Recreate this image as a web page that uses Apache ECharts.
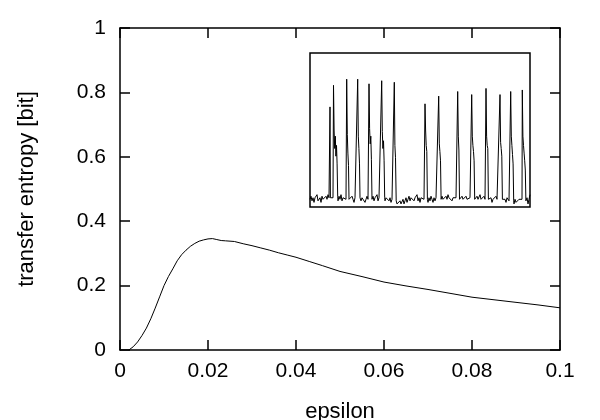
<!DOCTYPE html>
<html><head><meta charset="utf-8">
<script src="https://cdn.jsdelivr.net/npm/echarts@6/dist/echarts.min.js"></script>
<style>html,body{margin:0;padding:0;background:#fff}#c{width:600px;height:420px}</style>
</head><body><div id="c"></div>
<script>
// main curve
var epsilon = [0.002,0.003,0.004,0.005,0.006,0.007,0.008,0.009,0.010,0.011,0.012,0.013,0.014,0.015,0.016,0.017,0.018,0.019,0.020,0.021,0.022,0.023,0.024,0.026,0.028,0.030,0.032,0.034,0.036,0.038,0.040,0.043,0.046,0.050,0.055,0.060,0.065,0.070,0.075,0.080,0.085,0.090,0.095,0.100];
var transferEntropy = [0.0,0.010,0.025,0.045,0.068,0.097,0.130,0.165,0.200,0.228,0.252,0.277,0.296,0.310,0.322,0.331,0.338,0.342,0.345,0.346,0.343,0.340,0.339,0.337,0.330,0.324,0.317,0.310,0.302,0.295,0.288,0.275,0.262,0.244,0.228,0.211,0.199,0.188,0.176,0.164,0.156,0.148,0.140,0.131];
var xTicks = [0, 0.02, 0.04, 0.06, 0.08, 0.1];
var yTicks = [0, 0.2, 0.4, 0.6, 0.8, 1];
// inset time series [time, signal]
var insetSignal = [
[0,.05],[1,.07],[2,.04],[3,.06],[4,.03],[5,.06],[6,.05],[7,.08],[8,.04],[9,.05],[10,.06],[11,.03],[12,.07],[13,.05],[14,.06],[15,.04],[16,.07],[17,.05],[18,.08],[19,.06],
[19.7,.07],[20,.65],[20.4,.06],
[21,.05],[22,.07],[23,.06],
[23.5,.79],[24.1,.50],[24.7,.38],[25.3,.46],[25.9,.33],[26.5,.40],[27.1,.28],[27.7,.07],
[28,.04],[29,.07],[30,.05],[31,.08],[32,.04],[33,.06],[34,.05],[35,.07],[36,.05],
[36.7,.83],[37.3,.47],[37.9,.35],[38.5,.27],[39,.05],
[40,.06],[41,.04],[42,.07],[43,.05],[44,.03],[45,.06],[46,.05],[47,.07],
[47.7,.83],[48.3,.46],[48.9,.38],[49.5,.28],[50,.06],
[51,.04],[52,.06],[53,.05],[54,.07],[55,.03],[56,.05],[57,.07],[58,.05],
[59,.80],[59.6,.51],[60.2,.41],[60.8,.46],[61.4,.31],[62,.05],
[63,.07],[64,.04],[65,.06],[66,.05],[67,.08],[68,.04],[69,.06],[70,.05],[71,.07],
[71.7,.82],[72.3,.49],[72.9,.38],[73.5,.43],[74.1,.30],[74.7,.06],
[75,.04],[76,.06],[77,.05],[78,.07],[79,.04],[80,.06],[81,.03],[82,.05],[83,.06],[84,.05],
[84.3,.81],[84.9,.40],[85.5,.32],[86.2,.04],
[87,.02],[88,.03],[89,.01],[90,.04],[91,.02],[92,.03],[93,.05],[94,.02],[95,.04],[96,.06],[97,.03],[98,.05],[99,.07],[100,.04],[101,.06],[102,.05],[103,.07],[104,.04],[105,.06],[106,.05],[107,.08],[108,.04],[109,.06],[110,.03],[111,.06],[112,.05],[113,.07],[114,.05],
[115,.67],[115.6,.50],[116.2,.40],[116.8,.36],[117.4,.05],
[118,.03],[119,.06],[120,.04],[121,.07],[122,.05],[123,.03],[124,.06],[125,.04],[126,.06],[127,.05],[128,.06],
[128.7,.72],[129.3,.41],[129.9,.36],[130.5,.30],[131.1,.05],
[132,.07],[133,.05],[134,.06],[135,.04],[136,.07],[137,.05],[138,.08],[139,.06],[140,.05],[141,.07],[142,.04],[143,.06],[144,.05],[145,.07],[146,.06],[147,.07],
[147.7,.75],[148.3,.46],[148.9,.37],[149.5,.05],
[150,.06],[151,.04],[152,.07],[153,.05],[154,.06],[155,.04],[156,.07],[157,.05],[158,.06],[159,.04],[160,.06],[161,.05],
[161.7,.73],[162.3,.46],[162.9,.40],[163.5,.36],[164.1,.30],[164.7,.05],
[165,.06],[166,.04],[167,.07],[168,.05],[169,.06],[170,.08],[171,.05],[172,.06],[173,.04],[174,.07],[175,.05],
[176,.77],[176.6,.46],[177.2,.40],[177.8,.38],[178.4,.05],
[179,.06],[180,.04],[181,.06],[182,.03],[183,.05],[184,.06],[185,.04],[186,.07],[187,.05],[188,.06],[189,.05],
[190,.73],[190.6,.42],[191.2,.38],[191.8,.33],[192.4,.05],
[193,.06],[194,.04],[195,.05],[196,.03],[197,.06],[198,.05],[199,.04],[200,.05],
[200.7,.75],[201.3,.46],[201.9,.40],[202.5,.34],[203.1,.28],[203.7,.04],
[204,.02],[205,.05],[206,.03],[207,.04],[208,.02],[209,.05],[210,.04],[211,.06],[212,.05],
[212.3,.76],[212.9,.46],[213.5,.40],[214.1,.35],[214.7,.30],[215.3,.24],[215.9,.04],
[216,.03],[217,.06],[218,.02],[219,.05],[220,.08]
];

var FONT = 'Liberation Sans, Arial, Helvetica, sans-serif';
var chart = echarts.init(document.getElementById('c'), null, {renderer: 'canvas'});
var axisLineStyle = {color: '#000', width: 1.5};
chart.setOption({
  animation: false,
  backgroundColor: '#fff',
  grid: [
    {left: 120, right: 40, top: 28, bottom: 70, show: false, containLabel: false, outerBoundsMode: 'none'},
    {left: 310, top: 53, width: 220, height: 154, show: true, borderColor: '#000', borderWidth: 1.5, backgroundColor: 'transparent', outerBoundsMode: 'none'}
  ],
  xAxis: [
    {type: 'value', gridIndex: 0, min: xTicks[0], max: xTicks[xTicks.length-1], interval: 0.02, position: 'bottom',
     name: 'epsilon', nameLocation: 'middle', nameGap: 51,
     nameTextStyle: {fontFamily: FONT, fontSize: 22, color: '#000'},
     axisLine: {onZero: false, lineStyle: axisLineStyle}, axisTick: {inside: true, length: 10, lineStyle: axisLineStyle},
     axisLabel: {fontFamily: FONT, fontSize: 21, color: '#000', margin: 11, formatter: function(v){return String(+v.toFixed(2));}},
     splitLine: {show: false}},
    {type: 'value', gridIndex: 0, min: xTicks[0], max: xTicks[xTicks.length-1], interval: 0.02, position: 'top',
     axisLine: {onZero: false, lineStyle: axisLineStyle}, axisTick: {inside: true, length: 10, lineStyle: axisLineStyle},
     axisLabel: {show: false}, splitLine: {show: false}},
    {type: 'value', gridIndex: 1, min: 0, max: 220, show: false}
  ],
  yAxis: [
    {type: 'value', gridIndex: 0, min: yTicks[0], max: yTicks[yTicks.length-1], interval: 0.2, position: 'left',
     name: 'transfer entropy [bit]', nameLocation: 'middle', nameGap: 82, nameRotate: 90,
     nameTextStyle: {fontFamily: FONT, fontSize: 22, color: '#000'},
     axisLine: {onZero: false, lineStyle: axisLineStyle}, axisTick: {inside: true, length: 10, lineStyle: axisLineStyle},
     axisLabel: {fontFamily: FONT, fontSize: 21, color: '#000', margin: 14, formatter: function(v){return String(+v.toFixed(1));}},
     splitLine: {show: false}},
    {type: 'value', gridIndex: 0, min: yTicks[0], max: yTicks[yTicks.length-1], interval: 0.2, position: 'right',
     axisLine: {onZero: false, lineStyle: axisLineStyle}, axisTick: {inside: true, length: 10, lineStyle: axisLineStyle},
     axisLabel: {show: false}, splitLine: {show: false}},
    {type: 'value', gridIndex: 1, min: 0, max: 1, show: false}
  ],
  series: [
    {type: 'line', xAxisIndex: 0, yAxisIndex: 0, showSymbol: false, silent: true,
     lineStyle: {color: '#000', width: 1}, data: epsilon.map(function(e, i){ return [e, transferEntropy[i]]; })},
    {type: 'line', xAxisIndex: 2, yAxisIndex: 2, showSymbol: false, silent: true,
     lineStyle: {color: '#000', width: 1}, data: insetSignal}
  ]
});
</script>
</body></html>
